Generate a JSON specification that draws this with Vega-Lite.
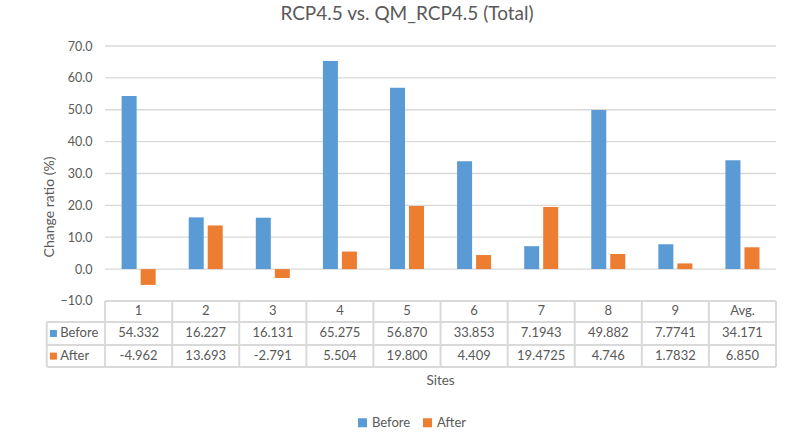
{
  "$schema": "https://vega.github.io/schema/vega-lite/v6.json",
  "width": 738,
  "height": 321,
  "autosize": {"type": "none"},
  "padding": {"left": 38, "top": 46, "right": 24, "bottom": 78},
  "background": "white",
  "config": {
    "font": "Lato",
    "view": {"stroke": null},
    "axis": {"labelFont": "Lato", "titleFont": "Lato", "labelColor": "#595959", "titleColor": "#595959", "titleFontWeight": "normal"}
  },
  "title": {"text": "RCP4.5 vs. QM_RCP4.5 (Total)", "font": "Lato", "fontSize": 19, "fontWeight": "normal", "color": "#595959", "offset": 16},
  "datasets": {
    "bars": [
      {"site": "1", "series": "Before", "value": 54.332, "label": "54.332"},
      {"site": "2", "series": "Before", "value": 16.227, "label": "16.227"},
      {"site": "3", "series": "Before", "value": 16.131, "label": "16.131"},
      {"site": "4", "series": "Before", "value": 65.275, "label": "65.275"},
      {"site": "5", "series": "Before", "value": 56.870, "label": "56.870"},
      {"site": "6", "series": "Before", "value": 33.853, "label": "33.853"},
      {"site": "7", "series": "Before", "value": 7.1943, "label": "7.1943"},
      {"site": "8", "series": "Before", "value": 49.882, "label": "49.882"},
      {"site": "9", "series": "Before", "value": 7.7741, "label": "7.7741"},
      {"site": "Avg.", "series": "Before", "value": 34.171, "label": "34.171"},
      {"site": "1", "series": "After", "value": -4.962, "label": "-4.962"},
      {"site": "2", "series": "After", "value": 13.693, "label": "13.693"},
      {"site": "3", "series": "After", "value": -2.791, "label": "-2.791"},
      {"site": "4", "series": "After", "value": 5.504, "label": "5.504"},
      {"site": "5", "series": "After", "value": 19.800, "label": "19.800"},
      {"site": "6", "series": "After", "value": 4.409, "label": "4.409"},
      {"site": "7", "series": "After", "value": 19.4725, "label": "19.4725"},
      {"site": "8", "series": "After", "value": 4.746, "label": "4.746"},
      {"site": "9", "series": "After", "value": 1.7832, "label": "1.7832"},
      {"site": "Avg.", "series": "After", "value": 6.850, "label": "6.850"}
    ],
    "grid": [{"v": 0}, {"v": 10}, {"v": 20}, {"v": 30}, {"v": 40}, {"v": 50}, {"v": 60}, {"v": 70}],
    "tableRows": [{"v": -16.6}, {"v": -23.8}, {"v": -30.72}],
    "sites": [{"site": "1"}, {"site": "2"}, {"site": "3"}, {"site": "4"}, {"site": "5"}, {"site": "6"}, {"site": "7"}, {"site": "8"}, {"site": "9"}, {"site": "Avg."}]
  },
  "layer": [
    {
      "data": {"name": "grid"},
      "mark": {"type": "rule", "color": "#D9D9D9", "strokeWidth": 1.3},
      "encoding": {
        "x": {"datum": "1", "type": "nominal", "bandPosition": 0,
          "scale": {"domain": ["label", "1", "2", "3", "4", "5", "6", "7", "8", "9", "Avg."], "paddingInner": 0, "paddingOuter": 0},
          "axis": null},
        "x2": {"datum": "Avg.", "bandPosition": 1},
        "y": {"field": "v", "type": "quantitative",
          "scale": {"domain": [-30.72, 70], "nice": false, "zero": false},
          "axis": {"values": [-10, 0, 10, 20, 30, 40, 50, 60, 70], "format": ".1f", "grid": false, "ticks": false, "domain": false, "offset": -67, "labelPadding": 13, "labelFontSize": 12.5, "title": "Change ratio (%)", "titleFontSize": 14, "titlePadding": 4}}
      }
    },
    {
      "data": {"name": "bars"},
      "mark": {"type": "bar"},
      "encoding": {
        "x": {"field": "site", "type": "nominal", "axis": null},
        "xOffset": {"field": "series", "type": "nominal", "sort": ["Before", "After"], "scale": {"paddingInner": 0.21, "paddingOuter": 0.87}},
        "y": {"field": "value", "type": "quantitative"},
        "y2": {"datum": 0},
        "color": {"field": "series", "type": "nominal",
          "scale": {"domain": ["Before", "After"], "range": ["#5B9BD5", "#ED7D31"]},
          "legend": {"orient": "none", "legendX": 318, "legendY": 370, "direction": "horizontal", "title": null, "symbolType": "square", "symbolSize": 81, "symbolStrokeWidth": 0, "labelFont": "Lato", "labelFontSize": 13, "labelColor": "#595959", "columnPadding": 10, "labelOffset": 3, "padding": 0}}
      }
    },
    {
      "data": {"values": [{"v": -10}]},
      "mark": {"type": "rule", "color": "#D9D9D9", "strokeWidth": 2},
      "encoding": {
        "x": {"datum": "1", "type": "nominal", "bandPosition": 0},
        "x2": {"datum": "Avg.", "bandPosition": 1},
        "y": {"field": "v", "type": "quantitative"}
      }
    },
    {
      "data": {"name": "tableRows"},
      "mark": {"type": "rule", "color": "#D9D9D9", "strokeWidth": 2},
      "encoding": {
        "x": {"datum": "label", "type": "nominal", "bandPosition": 0.13},
        "x2": {"datum": "Avg.", "bandPosition": 1},
        "y": {"field": "v", "type": "quantitative"}
      }
    },
    {
      "data": {"name": "sites"},
      "mark": {"type": "rule", "color": "#D9D9D9", "strokeWidth": 2},
      "encoding": {
        "x": {"field": "site", "type": "nominal", "bandPosition": 0},
        "y": {"datum": -10, "type": "quantitative"},
        "y2": {"datum": -30.72}
      }
    },
    {
      "data": {"values": [{"site": "Avg."}]},
      "mark": {"type": "rule", "color": "#D9D9D9", "strokeWidth": 2},
      "encoding": {
        "x": {"field": "site", "type": "nominal", "bandPosition": 1},
        "y": {"datum": -10, "type": "quantitative"},
        "y2": {"datum": -30.72}
      }
    },
    {
      "data": {"values": [{"site": "label"}]},
      "mark": {"type": "rule", "color": "#D9D9D9", "strokeWidth": 2},
      "encoding": {
        "x": {"field": "site", "type": "nominal", "bandPosition": 0.13},
        "y": {"datum": -16.6, "type": "quantitative"},
        "y2": {"datum": -30.72}
      }
    },
    {
      "data": {"name": "sites"},
      "mark": {"type": "text", "font": "Lato", "fontSize": 13, "color": "#595959", "baseline": "middle"},
      "encoding": {
        "x": {"field": "site", "type": "nominal"},
        "y": {"datum": -13.3, "type": "quantitative"},
        "text": {"field": "site"}
      }
    },
    {
      "data": {"name": "bars"},
      "transform": [{"filter": "datum.series === 'Before'"}],
      "mark": {"type": "text", "font": "Lato", "fontSize": 13, "color": "#595959", "baseline": "middle"},
      "encoding": {
        "x": {"field": "site", "type": "nominal"},
        "y": {"datum": -20.2, "type": "quantitative"},
        "text": {"field": "label"}
      }
    },
    {
      "data": {"name": "bars"},
      "transform": [{"filter": "datum.series === 'After'"}],
      "mark": {"type": "text", "font": "Lato", "fontSize": 13, "color": "#595959", "baseline": "middle"},
      "encoding": {
        "x": {"field": "site", "type": "nominal"},
        "y": {"datum": -27.3, "type": "quantitative"},
        "text": {"field": "label"}
      }
    },
    {
      "data": {"values": [{"series": "Before"}]},
      "mark": {"type": "text", "font": "Lato", "fontSize": 13, "color": "#595959", "baseline": "middle", "align": "left"},
      "encoding": {
        "x": {"datum": "label", "type": "nominal", "bandPosition": 0.33},
        "y": {"datum": -20.2, "type": "quantitative"},
        "text": {"field": "series"}
      }
    },
    {
      "data": {"values": [{"series": "After"}]},
      "mark": {"type": "text", "font": "Lato", "fontSize": 13, "color": "#595959", "baseline": "middle", "align": "left"},
      "encoding": {
        "x": {"datum": "label", "type": "nominal", "bandPosition": 0.33},
        "y": {"datum": -27.3, "type": "quantitative"},
        "text": {"field": "series"}
      }
    },
    {
      "data": {"values": [{"series": "Before"}]},
      "mark": {"type": "point", "shape": "square", "filled": true, "opacity": 1, "size": 49, "color": "#5B9BD5"},
      "encoding": {
        "x": {"datum": "label", "type": "nominal", "bandPosition": 0.23},
        "y": {"datum": -20.2, "type": "quantitative"}
      }
    },
    {
      "data": {"values": [{"series": "After"}]},
      "mark": {"type": "point", "shape": "square", "filled": true, "opacity": 1, "size": 49, "color": "#ED7D31"},
      "encoding": {
        "x": {"datum": "label", "type": "nominal", "bandPosition": 0.23},
        "y": {"datum": -27.3, "type": "quantitative"}
      }
    },
    {
      "data": {"values": [{"title": "Sites"}]},
      "mark": {"type": "text", "font": "Lato", "fontSize": 13.5, "color": "#595959", "baseline": "middle"},
      "encoding": {
        "x": {"datum": "6", "type": "nominal", "bandPosition": 0},
        "y": {"datum": -35.1, "type": "quantitative"},
        "text": {"field": "title"}
      }
    }
  ]
}
